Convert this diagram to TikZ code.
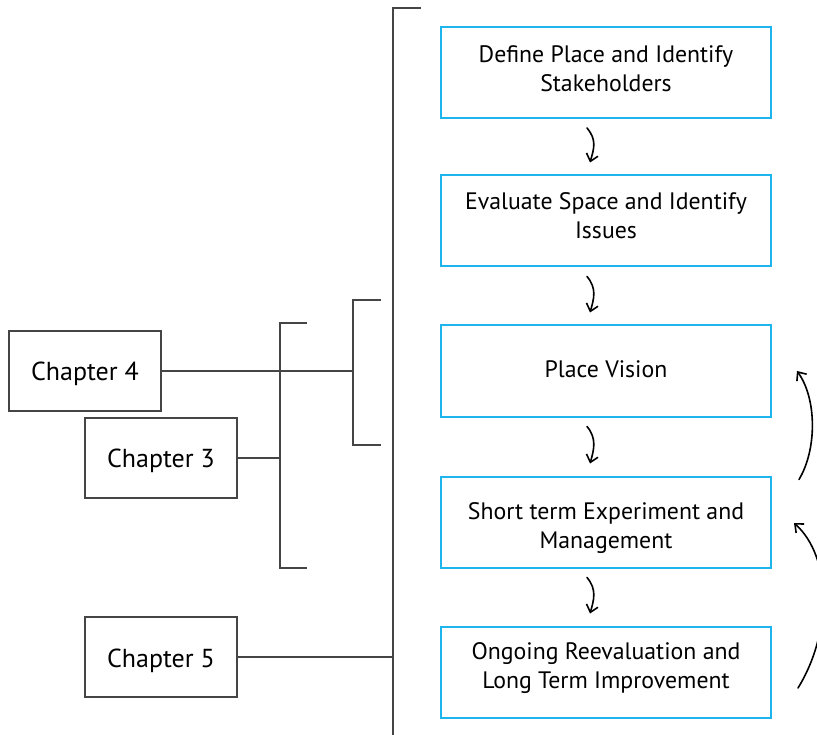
\documentclass[tikz,border=0pt]{standalone}
\usepackage{fontspec}
\setmainfont{PT Sans}
\usetikzlibrary{arrows.meta}
\definecolor{stepblue}{HTML}{1EB4EE}
\definecolor{linegray}{HTML}{454545}
\begin{document}
\begin{tikzpicture}[x=1pt,y=-1pt,
  stepbox/.style={draw=stepblue,line width=2pt,minimum width=330pt,minimum height=91pt,
    align=center,inner sep=0pt,font=\fontsize{23.8}{29}\selectfont},
  chapbox/.style={draw=linegray,line width=2pt,minimum width=152pt,minimum height=80pt,
    inner sep=0pt,text height=20pt,text depth=0pt,font=\fontsize{26}{30}\selectfont},
  link/.style={draw=linegray,line width=2pt},
  flow/.style={line width=1.6pt,line cap=round,-{Straight Barb[length=7pt,width=12pt,line width=1.6pt]}}
]
\useasboundingbox (0,0) rectangle (817,735);
\clip (0,0) rectangle (817,735);

% process steps
\node[stepbox,text depth=8pt] (s1) at (606,72.5) {Define Place and Identify\\Stakeholders};
\node[stepbox,text depth=11pt] (s2) at (606,221) {Evaluate Space and Identify\\Issues};
\node[stepbox,text depth=4pt] (s3) at (606,371) {Place Vision};
\node[stepbox,text height=52pt,text depth=0pt] (s4) at (606,522) {Short term Experiment and\\Management};
\node[stepbox,text depth=12pt] (s5) at (606,672) {Ongoing Reevaluation and\\Long Term Improvement};

% chapters
\node[chapbox] (c4) at (85,371) {Chapter 4};
\node[chapbox] (c3) at (161,457.5) {Chapter 3};
\node[chapbox] (c5) at (161,657) {Chapter 5};

% brackets
\draw[link] (421,8) -- (393,8) -- (393,740);
\draw[link] (381,300.5) -- (353,300.5) -- (353,444.5) -- (381,444.5);
\draw[link] (306.5,323) -- (280,323) -- (280,568) -- (306.5,568);
\coordinate (b4) at (353,371);
\coordinate (b3) at (280,457.5);
\coordinate (b5) at (393,657);

% chapter links
\draw[link] (c4.east) -- (b4);
\draw[link] (c3.east) -- (b3);
\draw[link] (c5.east) -- (b5);

% step arrows
\foreach \a/\b in {s1/s2,s2/s3,s3/s4,s4/s5}
  \draw[flow] ([xshift=-19pt,yshift=-9pt]\a.south) .. controls +(10,12) and +(4,-14) .. ([xshift=-16pt,yshift=12pt]\b.north);

% feedback arcs
\draw[flow] ([xshift=27pt,yshift=-4pt]s4.north east) .. controls +(18,-30) and +(20,28) .. ([xshift=25pt]s3.east);
\draw[flow] ([xshift=26pt,yshift=-16pt]s5.east) .. controls +(34,-55) and +(38,34) .. ([xshift=22pt,yshift=-1pt]s4.east);
\end{tikzpicture}
\end{document}
